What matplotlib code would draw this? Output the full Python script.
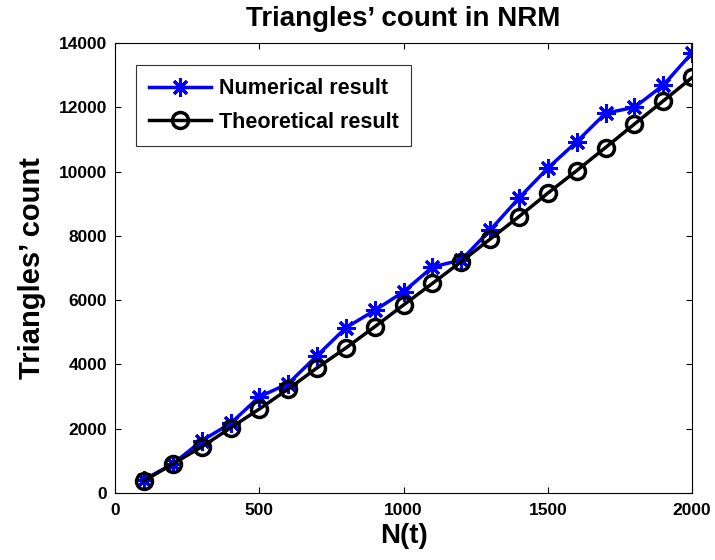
import matplotlib
matplotlib.use("Agg")
import matplotlib.pyplot as plt

plt.rcParams['font.family'] = ['Liberation Sans', 'DejaVu Sans']
plt.rcParams['font.weight'] = 'bold'

N = [100, 200, 300, 400, 500, 600, 700, 800, 900, 1000,
     1100, 1200, 1300, 1400, 1500, 1600, 1700, 1800, 1900, 2000]
numerical = [410, 900, 1620, 2160, 2990, 3400, 4270, 5140, 5680, 6260,
             7030, 7250, 8180, 9180, 10110, 10930, 11820, 12000, 12690, 13700]
theoretical = [370, 900, 1430, 2020, 2610, 3230, 3890, 4510, 5170, 5850,
               6520, 7200, 7900, 8600, 9330, 10030, 10750, 11480, 12200, 12930]

xticks = [0, 500, 1000, 1500, 2000]
yticks = [0, 2000, 4000, 6000, 8000, 10000, 12000, 14000]

fig = plt.figure(figsize=(7.15, 5.6), dpi=100)
ax = fig.add_axes([0.161, 0.12, 0.807, 0.803])

ax.plot(N, numerical, color='#0000ff', lw=2.5, marker=(8, 2, 0), ms=13,
        mew=2.2, label='Numerical result')
ax.plot(N, theoretical, color='black', lw=2.5, marker='o', ms=11.5,
        mfc='none', mew=2.5, label='Theoretical result')

ax.set_xlim(0, 2000)
ax.set_ylim(0, 14000)
ax.set_xticks(xticks)
ax.set_yticks(yticks)
ax.tick_params(direction='in', top=True, right=True, labelsize=12.5,
               length=4, width=0.8)
ax.tick_params(axis='x', pad=7)
ax.tick_params(axis='y', pad=6)
for lab in ax.get_xticklabels() + ax.get_yticklabels():
    lab.set_fontweight('bold')

ax.set_xlabel('N(t)', fontsize=20, fontweight='bold', labelpad=4)
ax.set_ylabel('Triangles\u2019 count', fontsize=21, fontweight='bold', labelpad=9)
ax.set_title('Triangles\u2019 count in NRM', fontsize=20, fontweight='bold', pad=12)

leg = ax.legend(loc='upper left', bbox_to_anchor=(0.036, 0.951), borderaxespad=0,
                fontsize=15.5, frameon=True, fancybox=False, edgecolor='black',
                handlelength=2.9, handletextpad=0.35, borderpad=0.6,
                labelspacing=0.6)
leg.get_frame().set_linewidth(0.8)
for t in leg.get_texts():
    t.set_fontweight('bold')

fig.savefig('out.png', dpi=100)
